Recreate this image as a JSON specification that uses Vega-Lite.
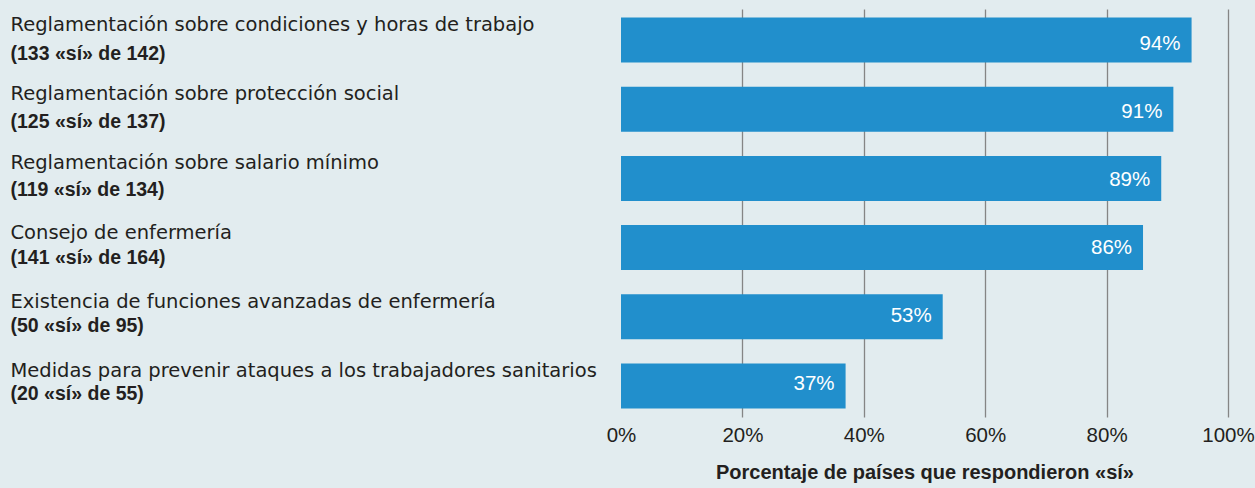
{
  "$schema": "https://vega.github.io/schema/vega-lite/v6.json",
  "width": 607,
  "height": 408,
  "autosize": {"type": "none"},
  "padding": {"left": 621, "top": 9, "right": 27, "bottom": 71},
  "background": "#e2ecef",
  "config": {"view": {"stroke": null}},
  "data": {
    "values": [
      {"item": "Reglamentación sobre condiciones y horas de trabajo", "count": "(133 «sí» de 142)", "share": 0.94},
      {"item": "Reglamentación sobre protección social", "count": "(125 «sí» de 137)", "share": 0.91},
      {"item": "Reglamentación sobre salario mínimo", "count": "(119 «sí» de 134)", "share": 0.89},
      {"item": "Consejo de enfermería", "count": "(141 «sí» de 164)", "share": 0.86},
      {"item": "Existencia de funciones avanzadas de enfermería", "count": "(50 «sí» de 95)", "share": 0.53},
      {"item": "Medidas para prevenir ataques a los trabajadores sanitarios", "count": "(20 «sí» de 55)", "share": 0.37}
    ]
  },
  "layer": [
    {
      "mark": {"type": "bar", "color": "#218fcc"},
      "encoding": {
        "y": {
          "field": "item", "type": "nominal", "sort": null,
          "scale": {"paddingInner": 0.35, "paddingOuter": 0.123},
          "axis": {
            "orient": "left", "title": null, "domain": false, "ticks": false, "tickSize": 0,
            "labelAlign": "left", "labelPadding": 611, "labelLimit": 700,
            "labelFont": "DejaVu Sans", "labelFontSize": 19.5, "labelColor": "#231f20",
            "labelBaseline": "alphabetic", "labelOffset": -9
          }
        },
        "x": {
          "field": "share", "type": "quantitative",
          "scale": {"domain": [0, 1], "nice": false},
          "axis": {
            "orient": "bottom", "format": ".0%", "values": [0, 0.2, 0.4, 0.6, 0.8, 1],
            "title": "Porcentaje de países que respondieron «sí»",
            "domain": false, "ticks": false, "tickSize": 0,
            "grid": true, "gridColor": "#858585", "gridWidth": 1.3,
            "gridOpacity": {"condition": {"test": "datum.value === 0", "value": 0}, "value": 1},
            "labelFont": "Liberation Sans", "labelFontSize": 20.5, "labelColor": "#231f20", "labelPadding": 8,
            "labelFlush": false,
            "titleFont": "Liberation Sans", "titleFontSize": 20, "titleFontWeight": "bold", "titleColor": "#231f20", "titlePadding": 17
          }
        }
      }
    },
    {
      "mark": {"type": "text", "align": "right", "dx": -11, "baseline": "middle", "dy": 1, "color": "white", "font": "Liberation Sans", "fontSize": 20.5},
      "encoding": {
        "y": {
          "field": "count", "type": "nominal", "sort": null,
          "scale": {"paddingInner": 0.35, "paddingOuter": 0.123},
          "axis": {
            "orient": "left", "title": null, "domain": false, "ticks": false, "tickSize": 0, "grid": false,
            "labelAlign": "left", "labelPadding": 611, "labelLimit": 700,
            "labelFont": "Liberation Sans", "labelFontWeight": "bold", "labelFontSize": 19.5, "labelColor": "#231f20",
            "labelBaseline": "alphabetic", "labelOffset": 16
          }
        },
        "x": {"field": "share", "type": "quantitative"},
        "text": {"field": "share", "type": "quantitative", "format": ".0%"}
      }
    }
  ],
  "resolve": {"scale": {"y": "independent"}, "axis": {"y": "independent"}}
}
